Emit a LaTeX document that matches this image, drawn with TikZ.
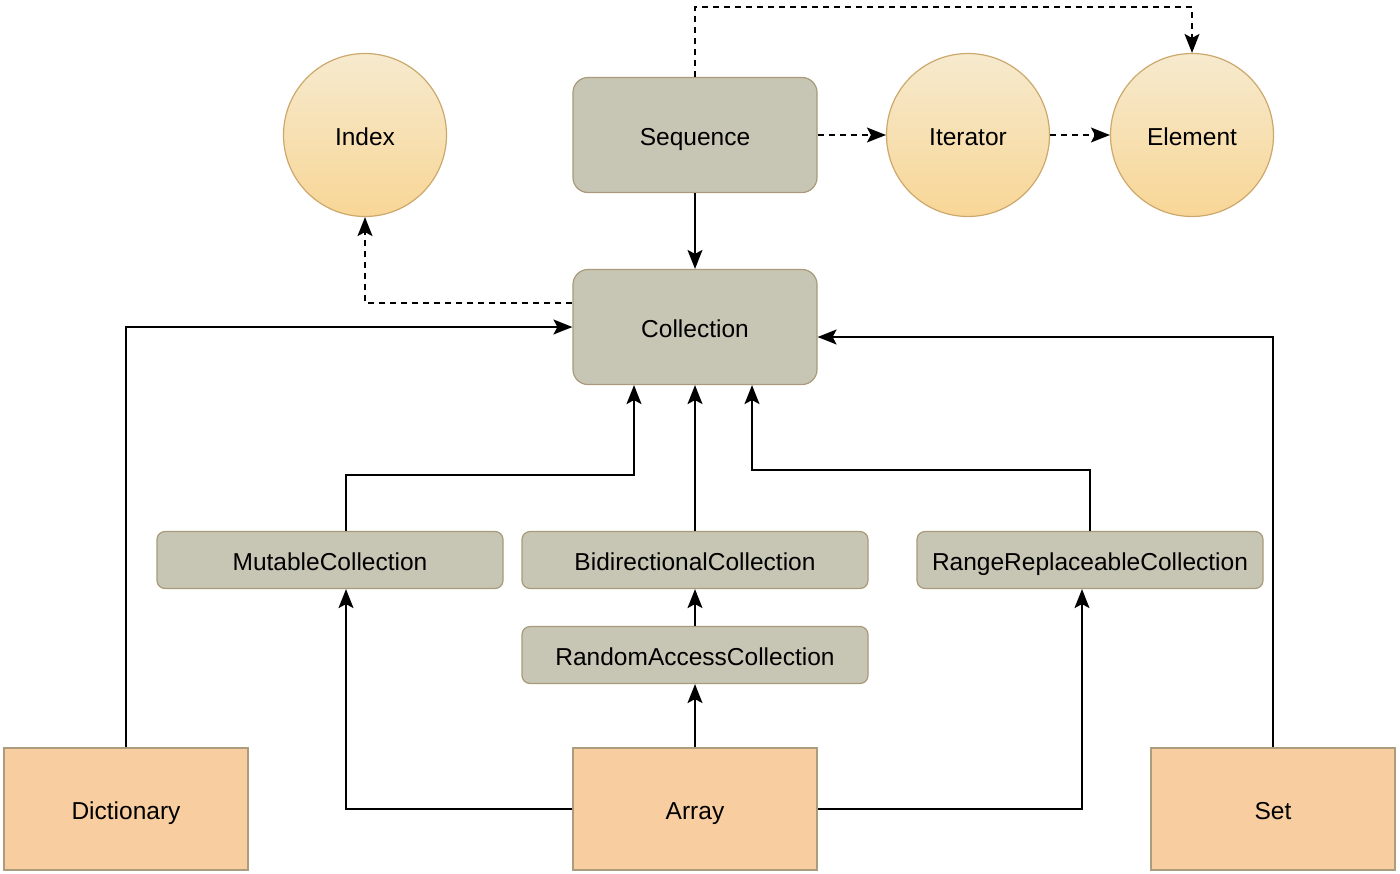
\documentclass[tikz,border=0pt]{standalone}
\usepackage{fontspec}
\setmainfont{Liberation Sans}
\usetikzlibrary{arrows.meta,shapes.geometric}
\definecolor{grayfill}{RGB}{199,198,180}
\definecolor{grayline}{RGB}{168,154,122}
\definecolor{orfill}{RGB}{248,205,160}
\definecolor{orline}{RGB}{170,156,124}
\definecolor{circtop}{RGB}{246,234,206}
\definecolor{circbot}{RGB}{248,214,150}
\definecolor{circline}{RGB}{204,168,108}
\tikzset{
  x=1pt, y=-1pt,
  every node/.style={font=\fontsize{24.5}{27}\selectfont, inner sep=0pt, text height=21pt, text depth=0pt},
  bigbox/.style={draw=grayline, fill=grayfill, line width=1.2pt, rounded corners=15pt, minimum width=244pt, minimum height=115pt},
  smallbox/.style={draw=grayline, fill=grayfill, line width=1.2pt, rounded corners=8pt, minimum width=346pt, minimum height=57pt},
  typebox/.style={draw=orline, fill=orfill, line width=1.2pt, minimum width=244pt, minimum height=122pt},
  proto/.style={circle, draw=circline, line width=1.2pt, top color=circtop, bottom color=circbot, minimum size=163pt},
  arr/.style={line width=1.5pt, -{Stealth[length=19pt,width=15pt,inset=4pt]}},
  dsh/.style={dash pattern=on 6pt off 5pt}
}
\begin{document}
\begin{tikzpicture}
\useasboundingbox (0,0) rectangle (1400,873);
\node[proto] (idx) at (365,135) {Index};
\node[bigbox] (seq) at (695,135) {Sequence};
\node[proto] (it) at (968,135) {Iterator};
\node[proto] (el) at (1192,135) {Element};
\node[bigbox] (col) at (695,327) {Collection};
\node[smallbox] (mut) at (330,560) {MutableCollection};
\node[smallbox] (bid) at (695,560) {BidirectionalCollection};
\node[smallbox] (rrc) at (1090,560) {RangeReplaceableCollection};
\node[smallbox] (rac) at (695,655) {RandomAccessCollection};
\node[typebox] (dict) at (126,809) {Dictionary};
\node[typebox] (arr) at (695,809) {Array};
\node[typebox] (set) at (1273,809) {Set};

\draw[arr,dsh] (seq.north) -- ++(0,-70) -| (el.north);
\draw[arr,dsh] (seq.east) -- (it.west);
\draw[arr,dsh] (it.east) -- (el.west);
\draw[arr] (seq.south) -- (col.north);
\draw[arr,dsh] ([yshift=24pt]col.west) -| (idx.south);
\draw[arr] (dict.north) |- (col.west);
\draw[arr] (set.north) |- ([yshift=-10pt]col.east);
\draw[arr] ([xshift=16pt]mut.north) -- ++(0,-56) -| ([xshift=-61pt]col.south);
\draw[arr] (bid.north) -- (col.south);
\draw[arr] (rrc.north) -- ++(0,-61) -| ([xshift=57pt]col.south);
\draw[arr] (rac.north) -- (bid.south);
\draw[arr] (arr.north) -- (rac.south);
\draw[arr] (arr.west) -| ([xshift=16pt]mut.south);
\draw[arr] (arr.east) -| ([xshift=-8pt]rrc.south);
\end{tikzpicture}
\end{document}
